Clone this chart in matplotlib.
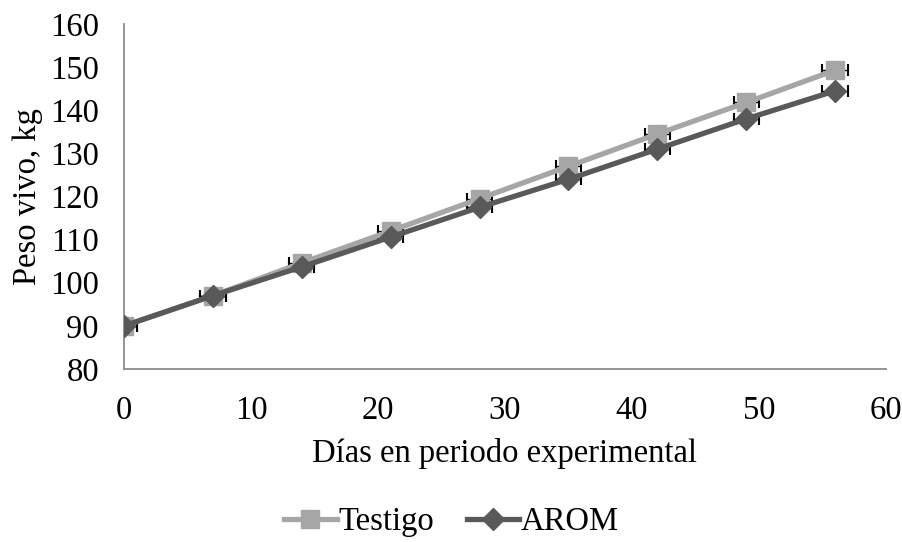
import matplotlib
matplotlib.use("Agg")
import matplotlib.pyplot as plt
from matplotlib.lines import Line2D

dias = [0, 7, 14, 21, 28, 35, 42, 49, 56]
testigo = [90.0, 97.0, 104.6, 112.0, 119.5, 127.0, 134.5, 141.8, 149.3]
arom = [90.0, 97.0, 103.7, 110.6, 117.5, 124.0, 131.0, 138.0, 144.5]
err_dias = [1] * len(dias)

x_ticks = [0, 10, 20, 30, 40, 50, 60]
y_ticks = [80, 90, 100, 110, 120, 130, 140, 150, 160]

plt.rcParams['font.family'] = ['Liberation Serif', 'DejaVu Serif']
FS = 23.5

fig = plt.figure(figsize=(9.03, 5.42), dpi=100)
ax = fig.add_axes([124 / 903, 1 - 369 / 542, (886 - 124) / 903, (369 - 24) / 542])

c_test = '#A6A6A6'
c_arom = '#595959'

ax.plot(dias, testigo, color=c_test, lw=3.8, marker='s', ms=12.5, zorder=3,
        label='Testigo', solid_capstyle='round')
ax.plot(dias, arom, color=c_arom, lw=3.8, marker='D', ms=11, zorder=4,
        label='AROM', solid_capstyle='round')
ax.errorbar(dias, testigo, xerr=err_dias, fmt='none', ecolor='black',
            elinewidth=1.0, capsize=4, capthick=1.5, zorder=2)
ax.errorbar(dias, arom, xerr=err_dias, fmt='none', ecolor='black',
            elinewidth=1.0, capsize=4, capthick=1.5, zorder=2)

ax.set_xlim(0, 60)
ax.set_ylim(80, 160)
ax.set_xticks(x_ticks)
ax.set_yticks(y_ticks)
ax.tick_params(length=0, labelsize=FS)
ax.tick_params(axis='x', pad=19)
ax.tick_params(axis='y', pad=18)
for s in ['top', 'right']:
    ax.spines[s].set_visible(False)
for s in ['left', 'bottom']:
    ax.spines[s].set_color('#8C8C8C')
    ax.spines[s].set_linewidth(1.3)

ax.set_xlabel('Días en periodo experimental', fontsize=FS, labelpad=9)
ax.set_ylabel('Peso vivo, kg', fontsize=FS, labelpad=5)

handles = [
    Line2D([], [], color=c_test, lw=3.8, marker='s', ms=12.5),
    Line2D([], [], color=c_arom, lw=3.8, marker='D', ms=11),
]
fig.legend(handles, ['Testigo', 'AROM'], loc='lower center',
           bbox_to_anchor=(0.5, -0.045), ncol=2, frameon=False, fontsize=FS,
           handlelength=1.6, handletextpad=0.05, columnspacing=1.0)

fig.savefig('out.png', dpi=100)
